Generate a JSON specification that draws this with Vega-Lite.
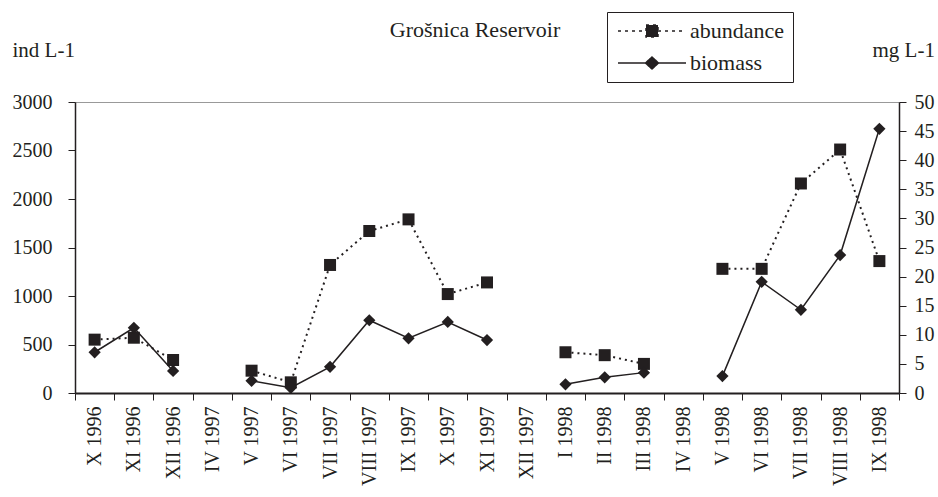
{
  "$schema": "https://vega.github.io/schema/vega-lite/v6.json",
  "width": 824,
  "height": 291,
  "autosize": "none",
  "padding": {"left": 75, "top": 102, "right": 39, "bottom": 104},
  "background": "white",
  "title": {"text": "Grošnica Reservoir", "font": "Liberation Serif", "fontSize": 22, "fontWeight": "normal", "color": "#231f20", "anchor": "middle", "offset": 0, "dx": -12, "dy": 30},
  "config": {
    "font": "Liberation Serif",
    "view": {"stroke": "#999999", "strokeWidth": 1},
    "axis": {"labelFont": "Liberation Serif", "titleFont": "Liberation Serif", "labelColor": "#231f20", "titleColor": "#231f20", "labelFontSize": 20, "titleFontSize": 21, "titleFontWeight": "normal", "domainColor": "#231f20", "tickColor": "#231f20", "grid": false, "domainWidth": 1.5, "tickWidth": 1}
  },
  "data": {
    "values": [
      {"month": "X 1996", "abundance": 550, "biomass": 7.0},
      {"month": "XI 1996", "abundance": 570, "biomass": 11.2},
      {"month": "XII 1996", "abundance": 340, "biomass": 3.8},
      {"month": "IV 1997", "abundance": null, "biomass": null},
      {"month": "V 1997", "abundance": 230, "biomass": 2.1},
      {"month": "VI 1997", "abundance": 110, "biomass": 0.9},
      {"month": "VII 1997", "abundance": 1320, "biomass": 4.5},
      {"month": "VIII 1997", "abundance": 1670, "biomass": 12.5},
      {"month": "IX 1997", "abundance": 1790, "biomass": 9.4},
      {"month": "X 1997", "abundance": 1020, "biomass": 12.2},
      {"month": "XI 1997", "abundance": 1140, "biomass": 9.1},
      {"month": "XII 1997", "abundance": null, "biomass": null},
      {"month": "I 1998", "abundance": 420, "biomass": 1.5},
      {"month": "II 1998", "abundance": 390, "biomass": 2.7},
      {"month": "III 1998", "abundance": 300, "biomass": 3.5},
      {"month": "IV 1998", "abundance": null, "biomass": null},
      {"month": "V 1998", "abundance": 1280, "biomass": 2.9},
      {"month": "VI 1998", "abundance": 1280, "biomass": 19.1},
      {"month": "VII 1998", "abundance": 2160, "biomass": 14.3},
      {"month": "VIII 1998", "abundance": 2510, "biomass": 23.7},
      {"month": "IX 1998", "abundance": 1360, "biomass": 45.4}
    ]
  },
  "encoding": {
    "x": {
      "field": "month", "type": "ordinal", "sort": null,
      "scale": {"domain": ["X 1996", "XI 1996", "XII 1996", "IV 1997", "V 1997", "VI 1997", "VII 1997", "VIII 1997", "IX 1997", "X 1997", "XI 1997", "XII 1997", "I 1998", "II 1998", "III 1998", "IV 1998", "V 1998", "VI 1998", "VII 1998", "VIII 1998", "IX 1998"]},
      "axis": {"title": null, "labelAngle": -90, "labelFont": "Liberation Serif", "tickBand": "extent", "tickSize": 7, "labelPadding": 6, "domainWidth": 2}
    }
  },
  "layer": [
    {
      "encoding": {
        "y": {"field": "abundance", "type": "quantitative", "scale": {"domain": [0, 3000], "nice": false},
          "axis": {"title": "ind L-1", "format": "d", "labelFont": "Liberation Serif", "titleFont": "Liberation Serif", "titleAngle": 0, "titleX": -63, "titleY": -52, "titleAlign": "left", "titleBaseline": "middle", "values": [0, 500, 1000, 1500, 2000, 2500, 3000], "tickSize": 7, "labelPadding": 16}}
      },
      "layer": [
        {
          "mark": {"type": "line", "strokeDash": [2, 4], "strokeWidth": 2, "invalid": "break-paths-show-domains"},
          "encoding": {
            "color": {"datum": "abundance", "scale": {"domain": ["abundance", "biomass"], "range": ["#231f20", "#231f20"]},
              "legend": {"title": null, "orient": "none", "legendX": 532, "legendY": -90, "strokeColor": "#231f20", "padding": 8,
                "labelFont": "Liberation Serif", "labelFontSize": 22, "labelColor": "#231f20", "symbolSize": 400, "symbolOffset": 26, "labelOffset": 27, "rowPadding": 10, "symbolStrokeWidth": 1.5,
                "encode": {"symbols": {"update": {
                  "shape": {"signal": "datum.value === 'abundance' ? 'M-3.4,0H-0.6M0.6,0H3.4M-0.6,-0.6H0.6V0.6H-0.6Z' : 'M-3.4,0H3.4M0,-0.6L0.65,0L0,0.6L-0.65,0Z'"},
                  "strokeDash": {"signal": "datum.value === 'abundance' ? [3,4] : [1,0]"},
                  "fill": {"value": "#231f20"},
                  "stroke": {"value": "#231f20"},
                  "strokeWidth": {"value": 1.5}
                }}}}}
          }
        },
        {"mark": {"type": "point", "shape": "square", "filled": true, "size": 144, "color": "#231f20", "opacity": 1}}
      ]
    },
    {
      "encoding": {
        "y": {"field": "biomass", "type": "quantitative", "scale": {"domain": [0, 50], "nice": false},
          "axis": {"orient": "right", "title": "mg L-1", "labelFont": "Liberation Serif", "titleFont": "Liberation Serif", "titleAngle": 0, "titleX": -27, "titleY": -52, "titleAlign": "left", "titleBaseline": "middle", "values": [0, 5, 10, 15, 20, 25, 30, 35, 40, 45, 50], "tickSize": 7, "labelPadding": 8}}
      },
      "layer": [
        {
          "mark": {"type": "line", "strokeWidth": 1.5, "invalid": "break-paths-show-domains"},
          "encoding": {"color": {"datum": "biomass"}}
        },
        {"mark": {"type": "point", "shape": "diamond", "filled": true, "size": 150, "color": "#231f20", "opacity": 1}}
      ]
    }
  ],
  "resolve": {"scale": {"y": "independent"}}
}
